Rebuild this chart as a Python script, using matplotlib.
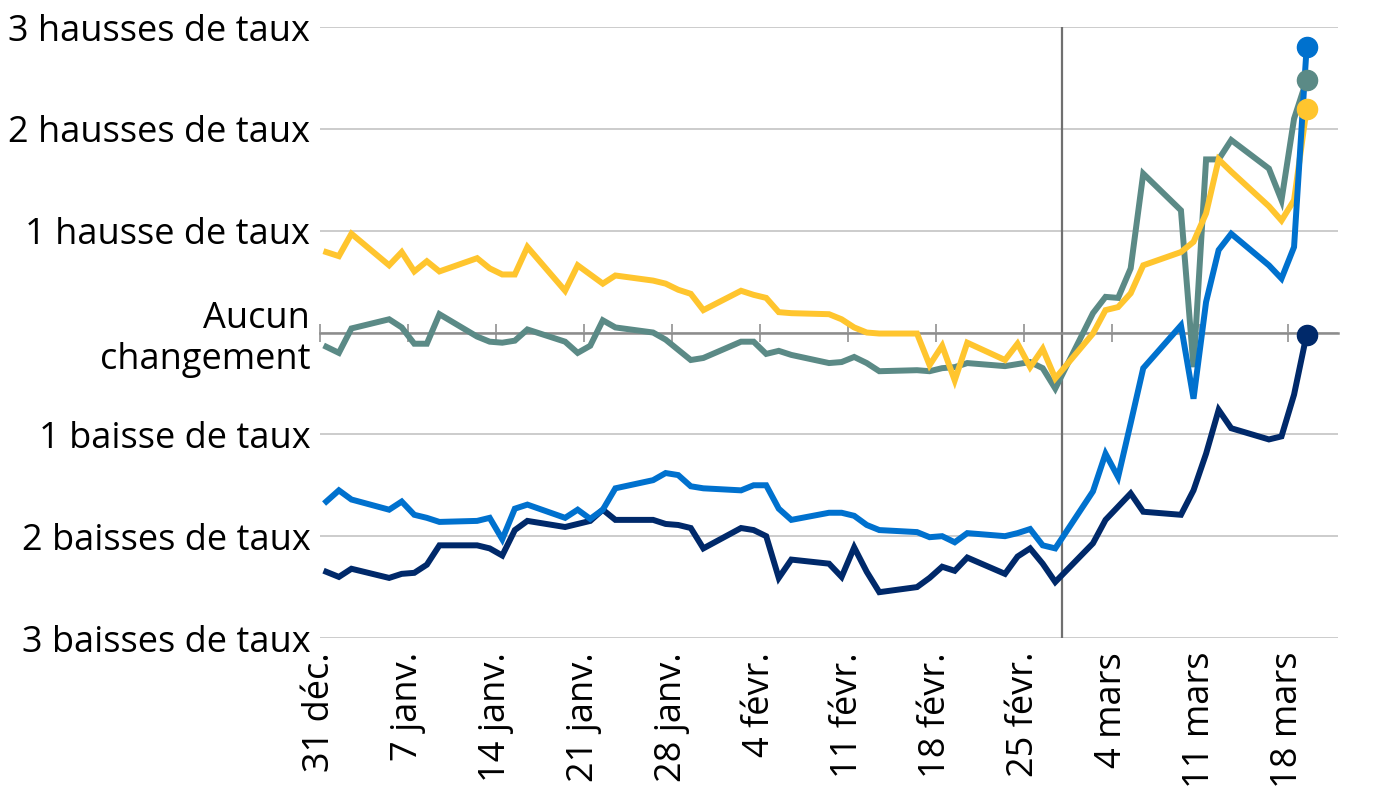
import numpy as np
import matplotlib
matplotlib.use('Agg')
import matplotlib.pyplot as plt

plt.rcParams['font.family'] = ['Open Sans', 'DejaVu Sans']

# jours depuis le 31 déc. (jours ouvrables seulement)
days = [0, 1, 2, 5, 6, 7, 8, 9, 12, 13, 14, 15, 16, 19, 20, 21, 22, 23,
        26, 27, 28, 29, 30, 33, 34, 35, 36, 37, 40, 41, 42, 43, 44,
        47, 48, 49, 50, 51, 54, 55, 56, 57, 58, 61, 62, 63, 64, 65,
        68, 69, 70, 71, 72, 75, 76, 77, 78]

yellow = [0.79, 0.75, 0.97, 0.66, 0.79, 0.60, 0.70, 0.60, 0.73, 0.63, 0.57, 0.57, 0.84,
          0.41, 0.66, 0.57, 0.48, 0.56, 0.51, 0.48, 0.42, 0.38, 0.22, 0.41, 0.37, 0.34,
          0.20, 0.19, 0.18, 0.13, 0.05, 0.00, -0.01, -0.01, -0.32, -0.13, -0.47, -0.10,
          -0.27, -0.11, -0.34, -0.16, -0.45, -0.01, 0.22, 0.25, 0.385, 0.66, 0.79, 0.89,
          1.17, 1.70, 1.58, 1.24, 1.10, 1.30, 2.20]

teal = [-0.14, -0.20, 0.04, 0.13, 0.05, -0.11, -0.11, 0.18, -0.04, -0.09, -0.10, -0.08, 0.03,
        -0.09, -0.20, -0.13, 0.12, 0.05, 0.00, -0.07, -0.17, -0.27, -0.25, -0.09, -0.09, -0.21,
        -0.18, -0.22, -0.30, -0.29, -0.24, -0.30, -0.38, -0.37, -0.38, -0.35, -0.34, -0.30,
        -0.33, -0.31, -0.29, -0.35, -0.55, 0.19, 0.35, 0.34, 0.63, 1.56, 1.20, -0.34,
        1.70, 1.70, 1.89, 1.61, 1.30, 2.10, 2.48]

blue = [-1.66, -1.55, -1.64, -1.74, -1.66, -1.79, -1.82, -1.86, -1.85, -1.82, -2.03, -1.73, -1.69,
        -1.82, -1.74, -1.83, -1.74, -1.53, -1.45, -1.38, -1.40, -1.51, -1.53, -1.55, -1.50, -1.50,
        -1.73, -1.84, -1.77, -1.77, -1.80, -1.89, -1.94, -1.96, -2.01, -2.00, -2.06, -1.97,
        -2.00, -1.97, -1.93, -2.09, -2.12, -1.56, -1.19, -1.42, -0.89, -0.35, 0.07, -0.65,
        0.30, 0.81, 0.97, 0.66, 0.53, 0.84, 2.80]

navy = [-2.35, -2.40, -2.32, -2.41, -2.37, -2.36, -2.28, -2.09, -2.09, -2.12, -2.19, -1.94, -1.85,
        -1.91, -1.88, -1.85, -1.74, -1.84, -1.84, -1.88, -1.89, -1.92, -2.12, -1.92, -1.94, -2.00,
        -2.41, -2.23, -2.27, -2.40, -2.11, -2.35, -2.55, -2.50, -2.41, -2.30, -2.34, -2.21,
        -2.37, -2.20, -2.12, -2.27, -2.45, -2.07, -1.84, -1.71, -1.58, -1.76, -1.79, -1.55,
        -1.19, -0.76, -0.94, -1.05, -1.02, -0.61, -0.02]

tick_days = [0, 7, 14, 21, 28, 35, 42, 49, 56, 63, 70, 77]
tick_labels = ['31 déc.', '7 janv.', '14 janv.', '21 janv.', '28 janv.', '4 févr.',
               '11 févr.', '18 févr.', '25 févr.', '4 mars', '11 mars', '18 mars']

y_ticks = [3, 2, 1, 0, -1, -2, -3]
y_labels = ['3 hausses de taux', '2 hausses de taux', '1 hausse de taux',
            'Aucun\nchangement', '1 baisse de taux', '2 baisses de taux', '3 baisses de taux']

split_day = 59

colors = {'teal': '#5B8A86', 'yellow': '#FFC52E', 'navy': '#00296A', 'blue': '#0071CE'}

fig = plt.figure(figsize=(13.8, 8), dpi=100)
ax = fig.add_axes([0.2319, 0.2025, 0.7377, 0.7637])

x = np.array(days) + 0.5  # point au milieu de la journee
for name, vals in [('teal', teal), ('yellow', yellow), ('navy', navy), ('blue', blue)]:
    ax.plot(x, vals, color=colors[name], lw=4.3, solid_joinstyle='miter', zorder=3)
    ax.plot(x[-1], vals[-1], 'o', color=colors[name], ms=14.5, zorder=4)

ax.axvline(split_day, color='#707070', lw=1.6, zorder=2)

ax.set_xlim(0, 81)
ax.set_ylim(-3, 3)
ax.set_yticks(y_ticks)
ax.set_yticklabels(y_labels)
ax.tick_params(axis='y', length=0, pad=7, labelsize=26)
ax.yaxis.grid(True, color='#C4C4C4', lw=1.2)
ax.set_axisbelow(True)

for s in ['top', 'right', 'left']:
    ax.spines[s].set_visible(False)
ax.spines['bottom'].set_position(('data', 0))
ax.spines['bottom'].set_color('#8C8C8C')
ax.spines['bottom'].set_linewidth(1.8)
ax.spines['bottom'].set_zorder(2.5)
ax.set_xticks(tick_days)
ax.tick_params(axis='x', direction='inout', length=13, width=1.3, color='#9A9A9A',
               labelbottom=False)

secax = ax.secondary_xaxis('bottom')
secax.set_xticks(tick_days)
secax.set_xticklabels(tick_labels)
secax.tick_params(length=0, pad=10, labelsize=26, labelrotation=90)
secax.spines['bottom'].set_visible(False)

fig.savefig('out.png', dpi=100)
